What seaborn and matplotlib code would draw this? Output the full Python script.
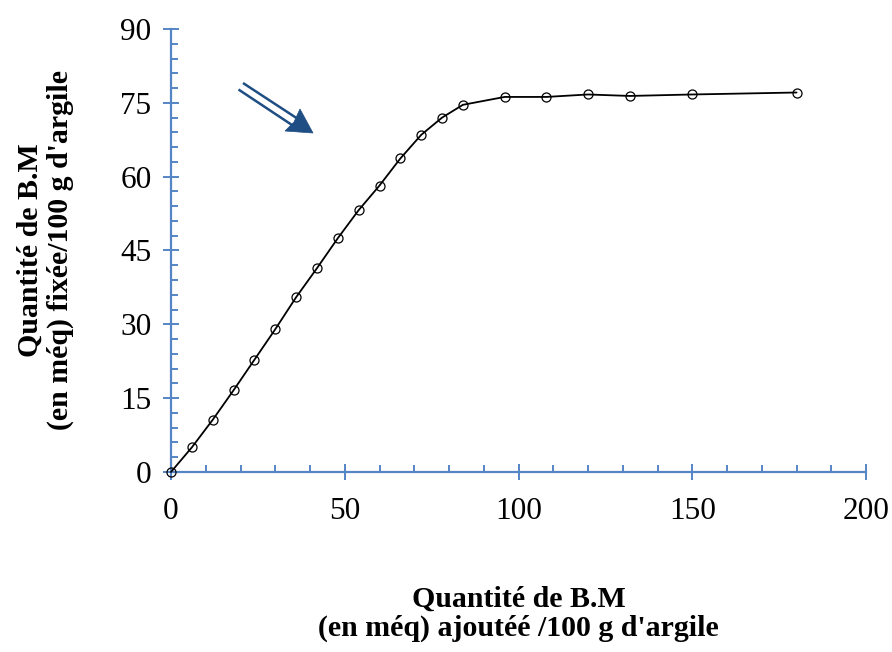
import matplotlib
matplotlib.use("Agg")
import matplotlib.pyplot as plt
import seaborn as sns
import pandas as pd
from matplotlib.ticker import MultipleLocator
from matplotlib.patches import Polygon
from matplotlib.lines import Line2D

# Adsorption isotherm of methylene blue on clay
bm_added = [0, 6, 12, 18, 24, 30, 36, 42, 48, 54, 60, 66, 72, 78, 84,
            96, 108, 120, 132, 150, 180]
bm_fixed = [0, 5.0, 10.6, 16.6, 22.8, 29.0, 35.5, 41.4, 47.5, 53.2, 58.2,
            63.7, 68.5, 72.0, 74.6, 76.2, 76.2, 76.7, 76.4, 76.7, 77.1]
x_ticks = [0, 50, 100, 150, 200]
y_ticks = [0, 15, 30, 45, 60, 75, 90]

df = pd.DataFrame({"ajoutee": bm_added, "fixee": bm_fixed})

sns.set_style("white")
plt.rcParams["font.family"] = ["Liberation Serif", "DejaVu Serif"]
plt.rcParams["text.color"] = "black"
plt.rcParams["axes.labelcolor"] = "black"

axis_blue = "#5585C5"
arrow_blue = "#1F4E85"

fig = plt.figure(figsize=(8.92, 6.52), dpi=100)
ax = fig.add_axes([0.1917, 0.2761, 0.9709 - 0.1917, 0.9555 - 0.2761])

sns.lineplot(data=df, x="ajoutee", y="fixee", ax=ax, color="black",
             linewidth=1.3, marker="o", markersize=6.5,
             markerfacecolor="none", markeredgecolor="black",
             markeredgewidth=0.9, clip_on=False, zorder=5)

ax.set_xlim(0, 200)
ax.set_ylim(0, 90)
ax.set_xticks(x_ticks)
ax.set_yticks(y_ticks)
ax.xaxis.set_minor_locator(MultipleLocator(10))
ax.yaxis.set_minor_locator(MultipleLocator(3))

for side in ("top", "right"):
    ax.spines[side].set_visible(False)
for side in ("left", "bottom"):
    ax.spines[side].set_color(axis_blue)
    ax.spines[side].set_linewidth(1.6)

ax.tick_params(which="major", direction="inout", length=12, width=1.4,
               color=axis_blue, labelsize=22.5, labelcolor="black")
ax.tick_params(axis="x", which="major", pad=12)
ax.tick_params(axis="y", which="major", pad=8)
ax.tick_params(which="minor", direction="in", length=5, width=1.4,
               color=axis_blue)
ax.tick_params(bottom=True, left=True, which="both")

ax.set_xlabel("Quantité de B.M\n(en méq) ajoutéé /100 g d'argile",
              fontsize=21.5, fontweight="bold", linespacing=1.07,
              color="black")
ax.xaxis.set_label_coords(0.5, -0.257)
ax.set_ylabel("Quantité de B.M\n(en méq) fixée/100 g d'argile",
              fontsize=21.5, fontweight="bold", linespacing=1.14,
              color="black")
ax.yaxis.set_label_coords(-0.14, 0.5)

# Double-shafted arrow drawn in figure pixels
H = 652
def fp(x, y):
    return (x / 892, (H - y) / H)

tip = (313, 133)
head_a = (300, 109)
head_b = (285, 131)
for (x0, y0), (x1, y1) in [((243, 83), (298, 119)), ((238.5, 89.5), (292, 125))]:
    fig.add_artist(Line2D([fp(x0, y0)[0], fp(x1, y1)[0]],
                          [fp(x0, y0)[1], fp(x1, y1)[1]],
                          transform=fig.transFigure, color=arrow_blue,
                          linewidth=1.8, solid_capstyle="butt"))
fig.add_artist(Polygon([fp(*tip), fp(*head_a), fp(294, 122), fp(*head_b)],
                       closed=True, transform=fig.transFigure,
                       facecolor=arrow_blue, edgecolor=arrow_blue,
                       linewidth=0.5))

fig.savefig("out.png", dpi=100, facecolor="white")
